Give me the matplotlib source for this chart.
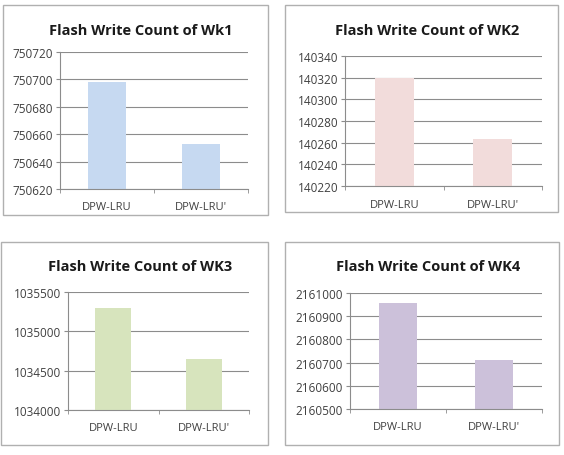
import matplotlib
matplotlib.use("Agg")
import matplotlib.pyplot as plt
from matplotlib.patches import Rectangle

categories = ["DPW-LRU", "DPW-LRU'"]

titles = ["Flash Write Count of Wk1", "Flash Write Count of WK2",
          "Flash Write Count of WK3", "Flash Write Count of WK4"]

wk1 = [750698, 750653]
wk2 = [140320, 140263]
wk3 = [1035297, 1034648]
wk4 = [2160955, 2160711]

y_ranges = [(750620, 750720, 20), (140220, 140340, 20),
            (1034000, 1035500, 500), (2160500, 2161000, 100)]

bar_colors = ["#c6d9f1", "#f2dcdb", "#d7e4bd", "#ccc1da"]

W, H = 564, 456

# pixel boxes: frame (x0, y0, x1, y1), plot area (x0, y0, x1, y1), title y
frames = [(3, 6, 268, 216), (285, 6, 558, 213), (1, 243, 268, 446), (285, 243, 559, 446)]
plots = [(60, 53, 248, 190), (345, 57, 542, 187), (68, 293, 249, 411), (350, 294, 542, 410)]
title_y = [31, 31, 267, 267]

fig = plt.figure(figsize=(W / 100, H / 100), dpi=100)
plt.rcParams['font.family'] = ['Open Sans', 'DejaVu Sans']


def fx(px):
    return px / W


def fy(py):
    return 1 - py / H


for i, vals in enumerate([wk1, wk2, wk3, wk4]):
    fx0, fy0, fx1, fy1 = frames[i]
    fig.patches.append(Rectangle((fx(fx0), fy(fy1)), fx(fx1) - fx(fx0), fy(fy0) - fy(fy1),
                                 transform=fig.transFigure, fill=False,
                                 edgecolor="#b0b0b0", linewidth=1.0))
    px0, py0, px1, py1 = plots[i]
    ax = fig.add_axes([fx(px0), fy(py1), fx(px1) - fx(px0), fy(py0) - fy(py1)])
    lo, hi, step = y_ranges[i]
    ax.bar(range(len(categories)), [v - lo for v in vals], bottom=lo, width=0.4,
           color=bar_colors[i], zorder=2)
    ax.set_ylim(lo, hi)
    ax.set_xlim(-0.5, 1.5)
    ax.set_yticks(range(lo, hi + 1, step))
    ax.set_yticklabels([str(t) for t in range(lo, hi + 1, step)])
    ax.yaxis.grid(True, color="#8c8c8c", linewidth=0.8, zorder=0)
    ax.set_axisbelow(True)
    ax.set_xticks([0, 1])
    ax.set_xticklabels(categories)
    ax.set_xticks([-0.5, 0.5, 1.5], minor=True)
    ax.tick_params(axis="x", which="major", length=0, pad=9, labelsize=8, labelcolor="#404040")
    ax.tick_params(axis="x", which="minor", length=3, color="#8c8c8c", direction="out")
    ax.tick_params(axis="y", length=3, color="#8c8c8c", labelsize=8.5, labelcolor="#404040", pad=2)
    for s in ["top", "right"]:
        ax.spines[s].set_visible(False)
    ax.spines["left"].set_color("#8c8c8c")
    ax.spines["bottom"].set_color("#8c8c8c")
    cx = (fx(fx0) + fx(fx1)) / 2 + 0.01
    fig.text(cx, fy(title_y[i]), titles[i], ha="center", va="center",
             fontsize=10.5, fontweight="bold", color="#1a1a1a")

fig.savefig("out.png", dpi=100)
